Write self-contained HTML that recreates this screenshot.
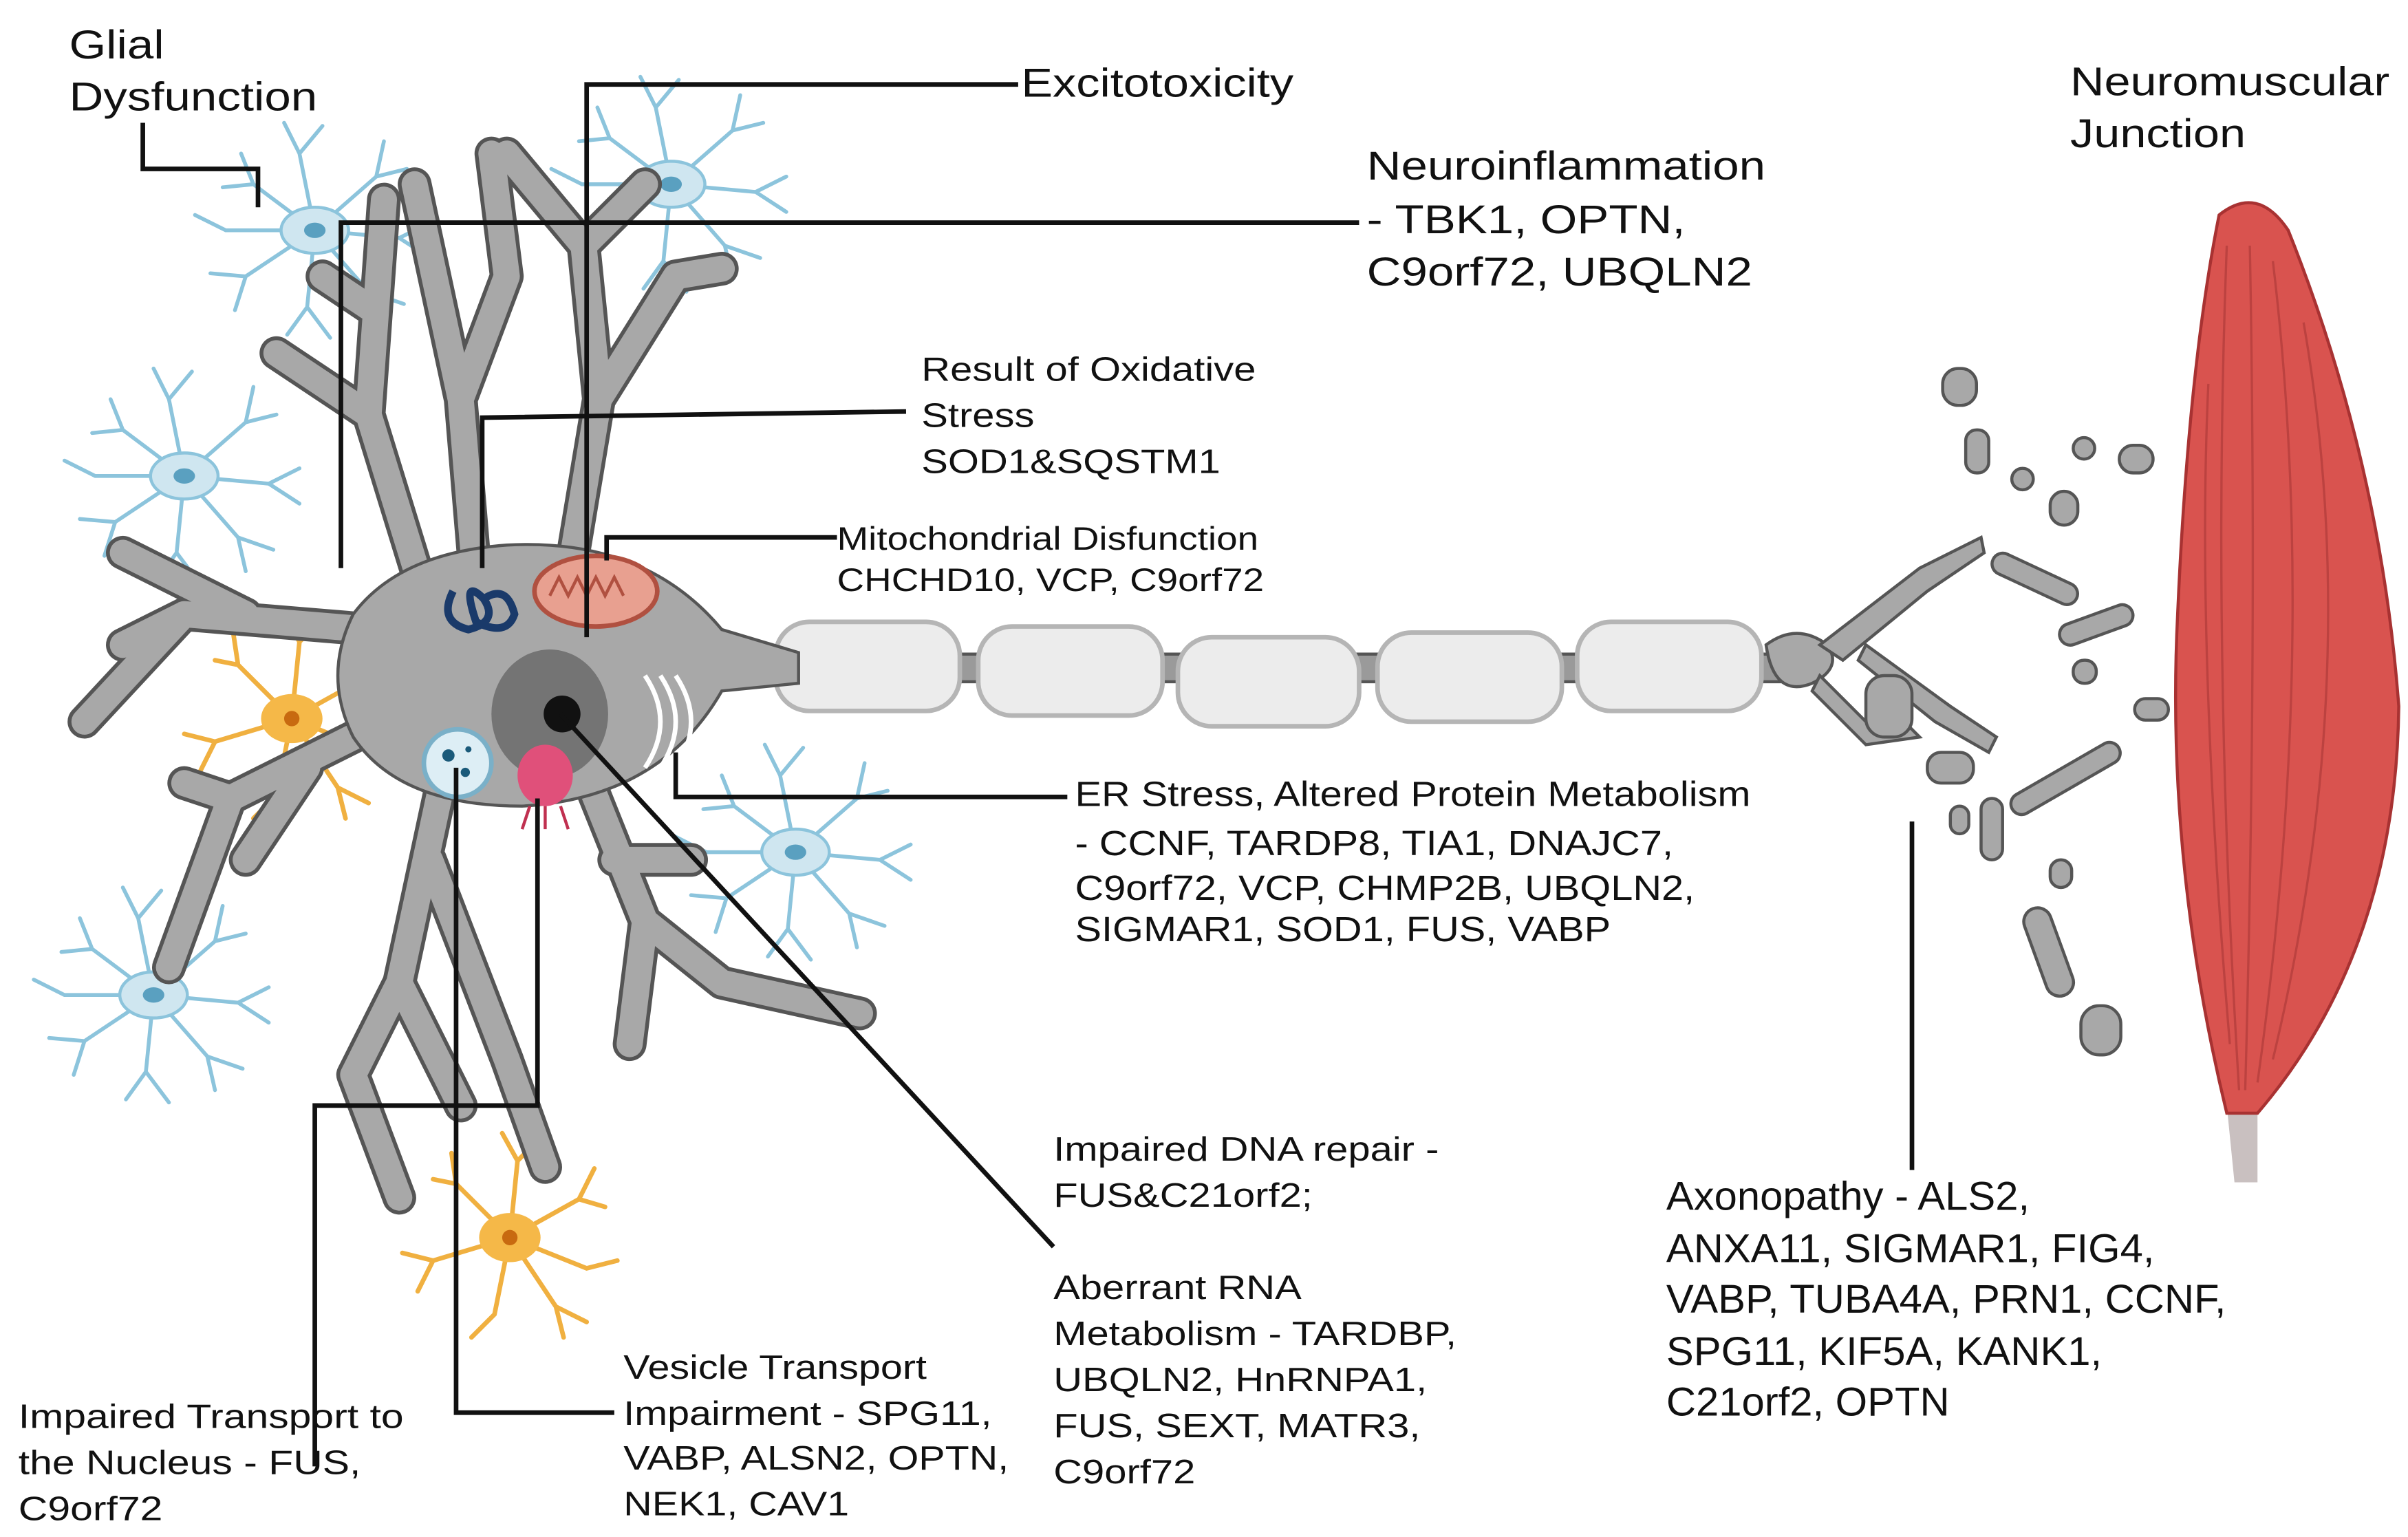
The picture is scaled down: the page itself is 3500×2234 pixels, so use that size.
<!DOCTYPE html>
<html><head><meta charset="utf-8"><style>
html,body{margin:0;padding:0;background:#fff;}
svg{display:block;}
text{font-family:"Liberation Sans",sans-serif;fill:#111;}
</style></head><body>
<svg width="3500" height="2234" viewBox="0 0 1568 1001" preserveAspectRatio="none" xmlns="http://www.w3.org/2000/svg">
<defs>
<g id="astro">
<g stroke="#8cc4dc" stroke-width="2.5" fill="none" stroke-linecap="round">
<path d="M0 0 L-40 -30 L-60 -28 M-40 -30 L-48 -50"/>
<path d="M0 0 L-10 -50 L-20 -70 M-10 -50 L5 -68"/>
<path d="M0 0 L40 -35 L60 -40 M40 -35 L45 -58"/>
<path d="M0 0 L55 5 L75 -5 M55 5 L75 18"/>
<path d="M0 0 L35 40 L40 62 M35 40 L58 48"/>
<path d="M0 0 L-5 50 L-18 68 M-5 50 L10 70"/>
<path d="M0 0 L-45 30 L-68 28 M-45 30 L-52 52"/>
<path d="M0 0 L-58 0 L-78 -10"/>
</g>
<ellipse cx="0" cy="0" rx="22" ry="15" fill="#cfe6f0" stroke="#8cc4dc" stroke-width="2"/>
<ellipse cx="0" cy="0" rx="7" ry="5" fill="#5aa0c0"/>
</g>
<g id="olig">
<g stroke="#f0b040" stroke-width="3" fill="none" stroke-linecap="round">
<path d="M0 0 L-35 -35 L-50 -38 M-35 -35 L-38 -55"/>
<path d="M0 0 L5 -50 L-5 -68 M5 -50 L20 -65"/>
<path d="M0 0 L45 -25 L62 -20 M45 -25 L55 -45"/>
<path d="M0 0 L50 20 L70 15"/>
<path d="M0 0 L30 45 L35 65 M30 45 L50 55"/>
<path d="M0 0 L-10 50 L-25 65"/>
<path d="M0 0 L-50 15 L-70 10 M-50 15 L-60 35"/>
</g>
<ellipse cx="0" cy="0" rx="20" ry="16" fill="#f5b848"/>
<circle cx="0" cy="0" r="5" fill="#c86a10"/>
</g>
</defs>

<use href="#astro" x="205" y="150"/>
<use href="#astro" x="437" y="120"/>
<use href="#astro" x="120" y="310"/>
<use href="#astro" x="518" y="555"/>
<use href="#astro" x="100" y="648"/>
<use href="#olig" x="190" y="468"/>
<use href="#olig" x="332" y="806"/>

<rect x="470" y="426" width="700" height="18" fill="#9a9a9a" stroke="#555" stroke-width="2"/>
<g fill="#ececec" stroke="#b5b5b5" stroke-width="3">
<rect x="505" y="405" width="120" height="58" rx="22"/>
<rect x="637" y="408" width="120" height="58" rx="22"/>
<rect x="767" y="415" width="118" height="58" rx="22"/>
<rect x="897" y="412" width="120" height="58" rx="22"/>
<rect x="1027" y="405" width="120" height="58" rx="22"/>
</g>

<g id="dend" fill="none" stroke-linecap="round" stroke-linejoin="round" stroke="#555" stroke-width="22">
<path d="M280 400 L240 270 L180 230 M240 270 L250 130 M240 200 L210 180"/>
<path d="M310 380 L300 260 L270 120 M300 260 L330 180 L320 100"/>
<path d="M370 380 L390 260 L380 160 L330 100 M390 260 L440 180 L470 175 M380 160 L420 120"/>
<path d="M240 410 L120 400 L55 470 M160 400 L80 360 M120 400 L80 420"/>
<path d="M250 470 L150 520 L110 630 M150 520 L120 510 M200 500 L160 560"/>
<path d="M290 500 L260 640 L300 720 M260 640 L230 700 L260 780 M280 560 L330 690 L355 760"/>
<path d="M380 500 L420 600 L410 680 M420 600 L470 640 L560 660 M400 560 L450 560"/>
</g>
<g fill="none" stroke="#a8a8a8" stroke-width="17" stroke-linecap="round" stroke-linejoin="round">
<path d="M280 400 L240 270 L180 230 M240 270 L250 130 M240 200 L210 180"/>
<path d="M310 380 L300 260 L270 120 M300 260 L330 180 L320 100"/>
<path d="M370 380 L390 260 L380 160 L330 100 M390 260 L440 180 L470 175 M380 160 L420 120"/>
<path d="M240 410 L120 400 L55 470 M160 400 L80 360 M120 400 L80 420"/>
<path d="M250 470 L150 520 L110 630 M150 520 L120 510 M200 500 L160 560"/>
<path d="M290 500 L260 640 L300 720 M260 640 L230 700 L260 780 M280 560 L330 690 L355 760"/>
<path d="M380 500 L420 600 L410 680 M420 600 L470 640 L560 660 M400 560 L450 560"/>
</g>
<path d="M230 400 Q260 360 330 355 Q420 350 470 410 L520 425 L520 445 L470 450 Q430 520 340 525 Q260 525 230 480 Q210 440 230 400 Z" fill="#a8a8a8" stroke="#555" stroke-width="2"/>
<ellipse cx="358" cy="465" rx="38" ry="42" fill="#747474"/>
<circle cx="366" cy="465" r="12" fill="#111"/>
<ellipse cx="388" cy="385" rx="40" ry="23" fill="#e8a090" stroke="#b05040" stroke-width="3"/>
<path d="M358 388 l6 -12 l6 12 l6 -12 l6 12 l6 -12 l6 12 l6 -12 l6 12" stroke="#b05040" stroke-width="2" fill="none"/>
<path d="M295 385 q-10 20 10 25 q20 -5 10 -20 q-15 -15 -5 15 q20 10 25 -5 q-5 -20 -20 -10" stroke="#1a3a6a" stroke-width="5" fill="none"/>
<circle cx="298" cy="497" r="22" fill="#ddeef5" stroke="#7ab0c8" stroke-width="3"/>
<circle cx="292" cy="492" r="4" fill="#1a5a7a"/><circle cx="303" cy="503" r="3" fill="#1a5a7a"/><circle cx="305" cy="488" r="2" fill="#1a5a7a"/>
<ellipse cx="355" cy="505" rx="18" ry="20" fill="#e0507a"/>
<path d="M345 525 l-5 15 M355 525 v15 M365 525 l5 15" stroke="#c03050" stroke-width="2"/>
<g stroke="#fff" stroke-width="3" fill="none"><path d="M420 440 q20 30 0 60 M430 440 q20 30 0 60 M440 440 q20 30 0 60"/></g>

<g fill="#a8a8a8" stroke="#555" stroke-width="2">
<path d="M1150 420 q20 -15 40 0 q10 15 -10 25 q-25 10 -30 -25z"/>
<path d="M1185 420 L1250 370 L1290 350 L1292 360 L1255 385 L1200 430z"/>
<path d="M1185 440 L1215 470 L1240 470 L1250 480 L1215 485 L1180 450z"/>
<path d="M1215 420 L1270 460 L1300 480 L1295 490 L1260 470 L1210 430z"/>
<rect x="1265" y="240" width="22" height="24" rx="10"/>
<rect x="1280" y="280" width="15" height="28" rx="7"/>
<rect x="1295" y="370" width="60" height="14" rx="7" transform="rotate(25 1325 377)"/>
<rect x="1310" y="305" width="14" height="14" rx="7"/>
<rect x="1335" y="320" width="18" height="22" rx="9"/>
<rect x="1380" y="290" width="22" height="18" rx="9"/>
<rect x="1350" y="285" width="14" height="14" rx="7"/>
<rect x="1340" y="400" width="50" height="14" rx="7" transform="rotate(-20 1365 407)"/>
<rect x="1350" y="430" width="15" height="15" rx="7"/>
<rect x="1305" y="500" width="80" height="14" rx="7" transform="rotate(-30 1345 507)"/>
<rect x="1255" y="490" width="30" height="20" rx="9"/>
<rect x="1290" y="520" width="14" height="40" rx="7"/>
<rect x="1270" y="525" width="12" height="18" rx="6"/>
<rect x="1335" y="560" width="14" height="18" rx="7"/>
<rect x="1325" y="590" width="18" height="60" rx="9" transform="rotate(-20 1334 620)"/>
<rect x="1355" y="655" width="26" height="32" rx="12"/>
<rect x="1390" y="455" width="22" height="14" rx="7"/>
<rect x="1215" y="440" width="30" height="40" rx="12"/>
</g>

<path d="M1450 720 L1470 720 L1470 770 L1455 770 Z" fill="#c9c0c0"/>
<path d="M1445 140 Q1470 120 1490 150 Q1550 300 1562 460 Q1560 620 1470 725 L1450 725 Q1410 560 1418 400 Q1425 240 1445 140 Z" fill="#d9534f" stroke="#a83232" stroke-width="2"/>
<g stroke="#b03c3a" stroke-width="1.5" fill="none" opacity="0.7">
<path d="M1450 160 Q1440 420 1458 710"/><path d="M1465 160 Q1470 420 1462 710"/><path d="M1480 170 Q1510 420 1470 705"/><path d="M1500 210 Q1540 440 1480 690"/><path d="M1438 250 Q1430 420 1452 680"/>
</g>

<g stroke="#111" stroke-width="3" fill="none">
<path d="M93 80 V110 H168 V135"/>
<path d="M663 55 H382 V415"/>
<path d="M885 145 H222 V370"/>
<path d="M590 268 L314 272 V370"/>
<path d="M545 350 H395 V365"/>
<path d="M695 519 H440 V490"/>
<path d="M365 465 L686 812"/>
<path d="M400 920 H297 V500"/>
<path d="M205 955 V720 H350 V520"/>
<path d="M1245 535 V762"/>
</g>

<g font-size="26">
<g transform="matrix(1.19,0,0,1,-8.55,0)"><text x="45" y="38">Glial</text><text x="45" y="72">Dysfunction</text></g>
<g transform="matrix(1.18,0,0,1,-119.7,0)"><text x="665" y="63">Excitotoxicity</text></g>
<g transform="matrix(1.19,0,0,1,-169.1,0)"><text x="890" y="117">Neuroinflammation</text><text x="890" y="152">- TBK1, OPTN,</text><text x="890" y="186">C9orf72, UBQLN2</text></g>
<g transform="matrix(1.18,0,0,1,-242.6,0)"><text x="1348" y="62">Neuromuscular</text><text x="1348" y="96">Junction</text></g>
<g transform="matrix(1.03,0,0,1,-32.55,0)"><text x="1085" y="788">Axonopathy - ALS2,</text><text x="1085" y="822">ANXA11, SIGMAR1, FIG4,</text><text x="1085" y="855">VABP, TUBA4A, PRN1, CCNF,</text><text x="1085" y="889">SPG11, KIF5A, KANK1,</text><text x="1085" y="922">C21orf2, OPTN</text></g>
</g>
<g font-size="22">
<g transform="matrix(1.18,0,0,1,-108,0)"><text x="600" y="248">Result of Oxidative</text><text x="600" y="278">Stress</text><text x="600" y="308">SOD1&amp;SQSTM1</text></g>
<g transform="matrix(1.17,0,0,1,-92.65,0)"><text x="545" y="358" font-size="21">Mitochondrial Disfunction</text><text x="545" y="385" font-size="21">CHCHD10, VCP, C9orf72</text></g>
<g transform="matrix(1.125,0,0,1,-87.5,0)"><text x="700" y="525" font-size="23">ER Stress, Altered Protein Metabolism</text><text x="700" y="557" font-size="23">- CCNF, TARDP8, TIA1, DNAJC7,</text><text x="700" y="586" font-size="23">C9orf72, VCP, CHMP2B, UBQLN2,</text><text x="700" y="613" font-size="23">SIGMAR1, SOD1, FUS, VABP</text></g>
<g transform="matrix(1.18,0,0,1,-123.5,0)"><text x="686" y="756">Impaired DNA repair -</text><text x="686" y="786">FUS&amp;C21orf2;</text>
<text x="686" y="846">Aberrant RNA</text><text x="686" y="876">Metabolism - TARDBP,</text><text x="686" y="906">UBQLN2, HnRNPA1,</text><text x="686" y="936">FUS, SEXT, MATR3,</text><text x="686" y="966">C9orf72</text></g>
<g transform="matrix(1.17,0,0,1,-69,0)"><text x="406" y="898">Vesicle Transport</text><text x="406" y="928">Impairment - SPG11,</text><text x="406" y="957">VABP, ALSN2, OPTN,</text><text x="406" y="987">NEK1, CAV1</text></g>
<g transform="matrix(1.2,0,0,1,-2.4,0)"><text x="12" y="930">Impaired Transport to</text><text x="12" y="960">the Nucleus - FUS,</text><text x="12" y="990">C9orf72</text></g>
</g>
</svg>
</body></html>
